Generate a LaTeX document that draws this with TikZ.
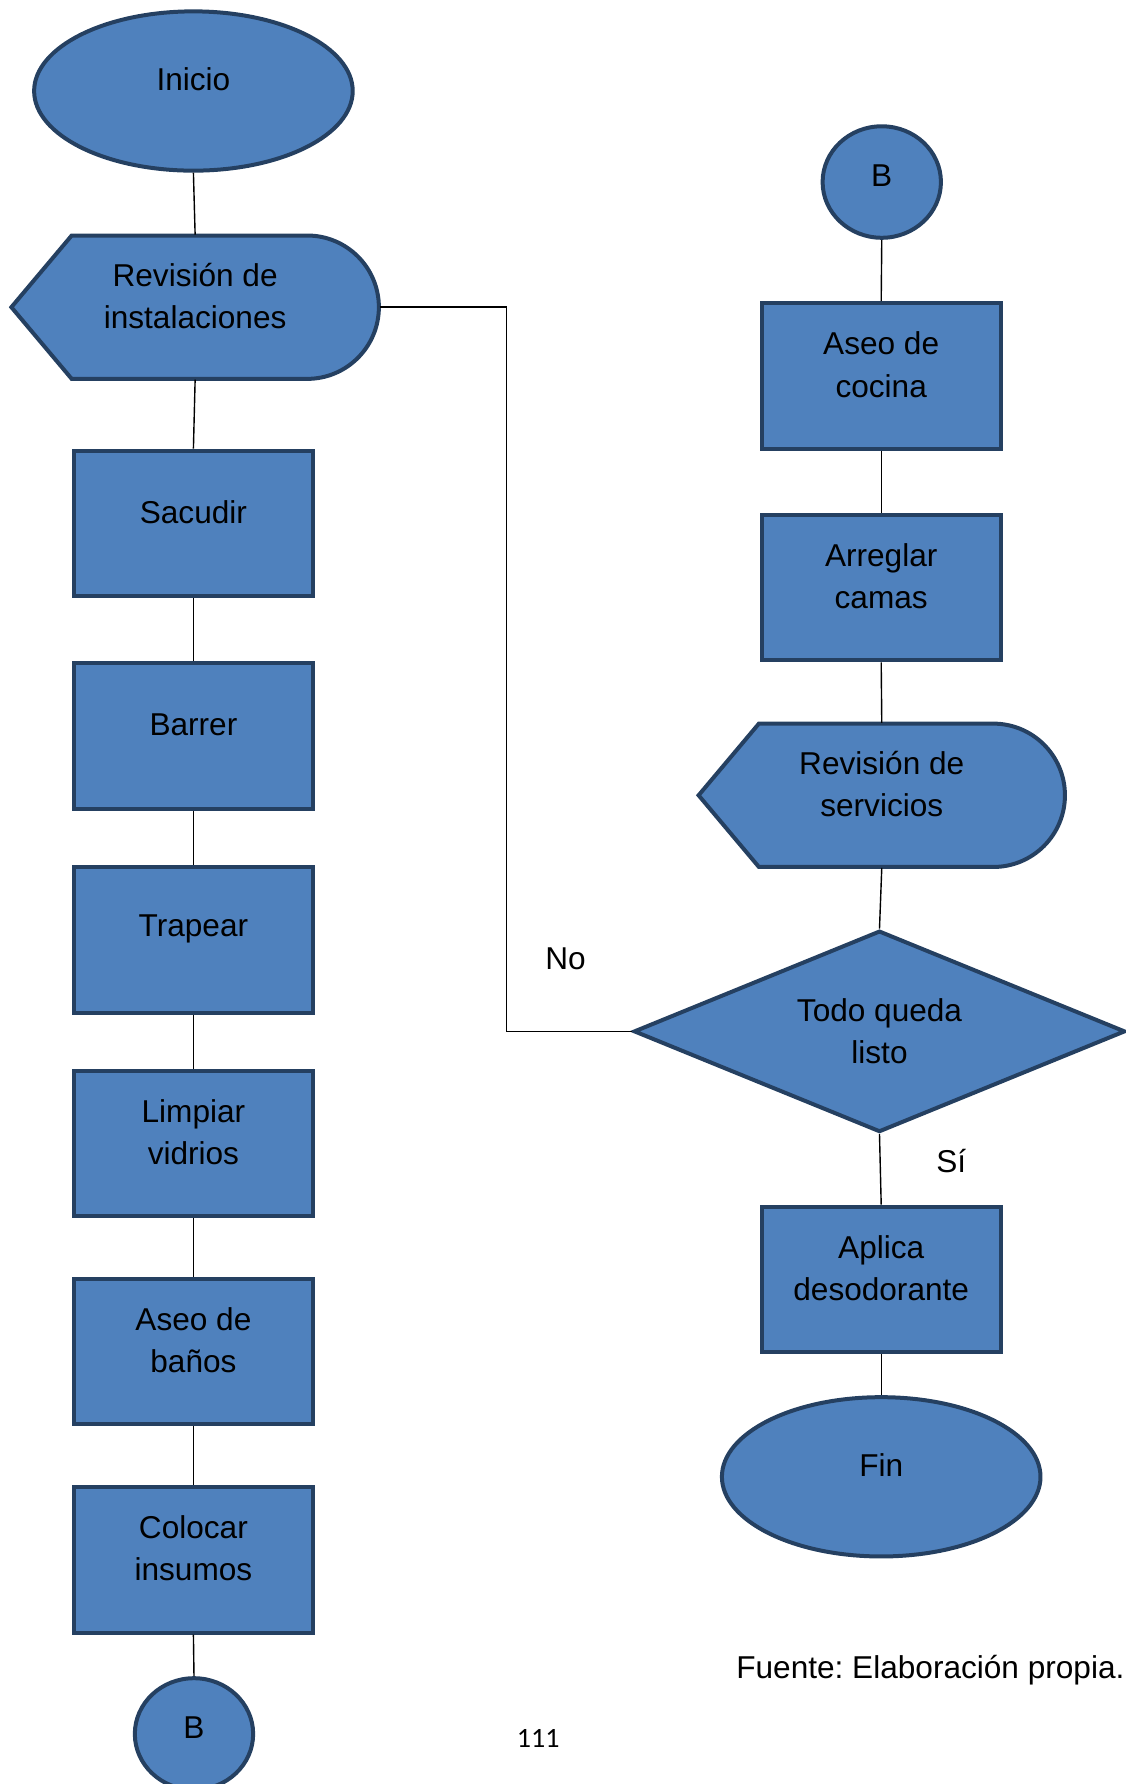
\documentclass[tikz,border=0pt]{standalone}
\usepackage{fontspec}
\setmainfont{Liberation Sans}
\newfontfamily\pagenofont{Carlito}
\usetikzlibrary{shapes.geometric}
\frenchspacing

\definecolor{shpfill}{RGB}{79,129,189}
\definecolor{shpline}{RGB}{37,64,97}

\tikzset{
	shp/.style={draw=shpline, fill=shpfill, line width=1pt},
	procbox/.style={shp, rectangle, minimum width=2.10cm, minimum height=1.28cm, inner sep=0},
	termin/.style={shp, ellipse, minimum width=2.80cm, minimum height=1.40cm, inner sep=0},
	connb/.style={shp, ellipse, minimum width=1.04cm, minimum height=0.98cm, inner sep=0},
	decis/.style={shp, diamond, minimum width=4.32cm, minimum height=1.77cm, inner sep=0},
	dispbox/.style={rectangle, minimum width=3.23cm, minimum height=1.26cm, inner sep=0},
	txt/.style={align=center, yshift=0.10cm},
	flow/.style={draw=black, line width=0.35pt},
}

\begin{document}
\begin{tikzpicture}[font=\fontsize{7.9}{10.6}\selectfont]
	\useasboundingbox (0,0) rectangle (9.89,-15.68);
	% display shapes go first, the nodes on top hold the text
	\draw[shp] (0.10,-2.70) -- (0.63,-2.07) -- (2.70,-2.07) arc[start angle=90,end angle=-90,radius=0.63] -- (0.63,-3.33) -- cycle;
	\draw[shp] (6.14,-6.99) -- (6.67,-6.36) -- (8.73,-6.36) arc[start angle=90,end angle=-90,radius=0.63] -- (6.67,-7.62) -- cycle;
	% left column
	\node[termin, label={[txt]center:Inicio}] (ini) at (1.70,-0.80) {};
	\node[dispbox, label={[txt]center:{Revisión de\\instalaciones}}] (rinst) at (1.715,-2.70) {};
	\node[procbox, label={[txt]center:Sacudir}] (sac) at (1.70,-4.60) {};
	\node[procbox, label={[txt]center:Barrer}] (bar) at (1.70,-6.47) {};
	\node[procbox, label={[txt]center:Trapear}] (tra) at (1.70,-8.26) {};
	\node[procbox, label={[txt]center:{Limpiar\\vidrios}}] (lim) at (1.70,-10.05) {};
	\node[procbox, label={[txt]center:{Aseo de\\baños}}] (aba) at (1.70,-11.88) {};
	\node[procbox, label={[txt]center:{Colocar\\insumos}}] (col) at (1.70,-13.71) {};
	\node[connb, label={[txt,yshift=-0.04cm]center:B}] (bl) at (1.705,-15.24) {};
	% right column
	\node[connb, label={[txt,yshift=-0.04cm]center:B}] (br) at (7.75,-1.60) {};
	\node[procbox, label={[txt]center:{Aseo de\\cocina}}] (coc) at (7.745,-3.305) {};
	\node[procbox, label={[txt]center:{Arreglar\\camas}}] (cam) at (7.745,-5.165) {};
	\node[dispbox, label={[txt]center:{Revisión de\\servicios}}] (rserv) at (7.75,-6.99) {};
	\node[decis, label={[txt,yshift=-0.10cm]center:{Todo queda\\listo}}] (dec) at (7.73,-9.065) {};
	\node[procbox, label={[txt]center:{Aplica\\desodorante}}] (apl) at (7.745,-11.245) {};
	\node[termin, label={[txt]center:Fin}] (fin) at (7.745,-12.98) {};
	% connectors
	\foreach \a/\b in {ini/rinst, rinst/sac, sac/bar, bar/tra, tra/lim, lim/aba, aba/col, col/bl,
		br/coc, coc/cam, cam/rserv, rserv/dec, dec/apl, apl/fin}
		\draw[flow] (\a.south) -- (\b.north);
	\coordinate (nobend) at (4.45,-2.70);
	\draw[flow] (rinst.east) -- (nobend) |- (dec.west);
	\node (lblno) at (4.97,-8.43) {No};
	\node (lblsi) at (8.36,-10.20) {Sí};
	\node[anchor=east, inner sep=0] (src) at (9.89,-14.68) {Fuente: Elaboración propia.};
	\node[font=\pagenofont\fontsize{7}{8}\selectfont] (pgno) at (4.73,-15.28) {111};
\end{tikzpicture}
\end{document}
